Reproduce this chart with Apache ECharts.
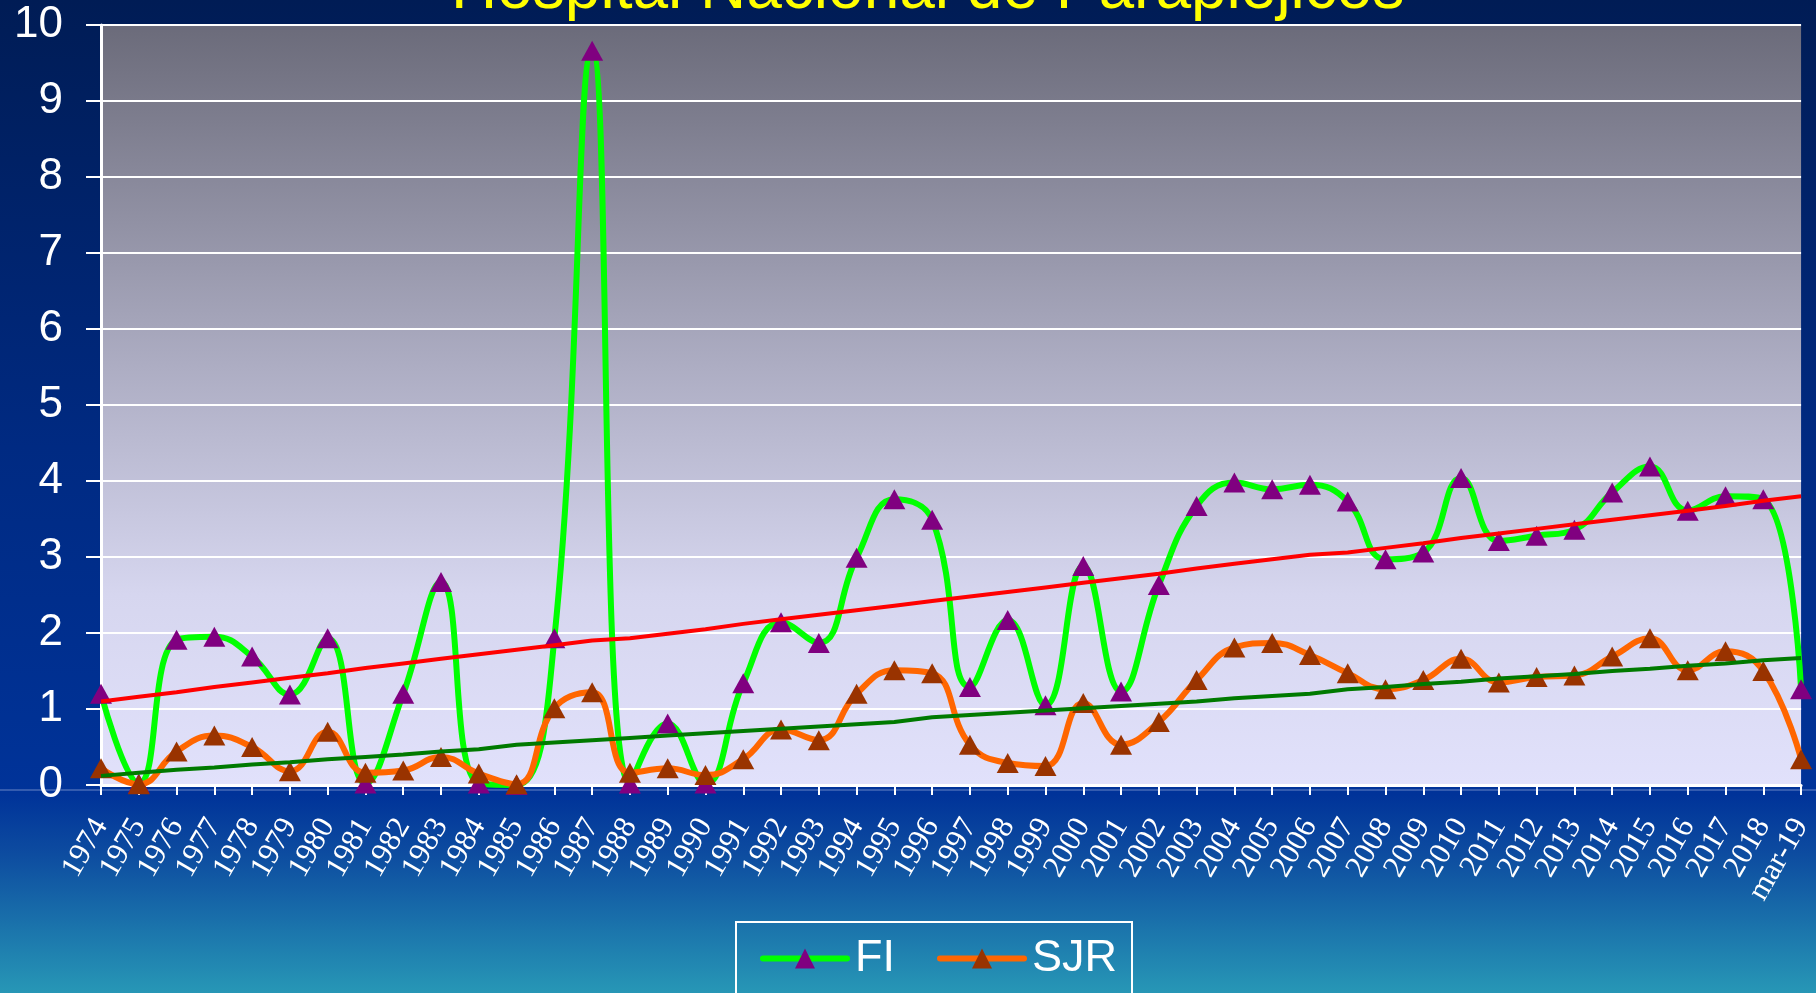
<!DOCTYPE html>
<html>
<head>
<meta charset="utf-8">
<script src="https://cdn.jsdelivr.net/npm/echarts@6/dist/echarts.min.js"></script>
<style>
html,body{margin:0;padding:0;width:1816px;height:993px;overflow:hidden;background:#002a80;}
#chart{width:1816px;height:993px;}
</style>
</head>
<body>
<div id="chart"></div>
<script>
const titleText = 'Hospital Nacional de Parapléjicos';
const categories = ['1974','1975','1976','1977','1978','1979','1980','1981','1982','1983','1984','1985','1986','1987','1988','1989','1990','1991','1992','1993','1994','1995','1996','1997','1998','1999','2000','2001','2002','2003','2004','2005','2006','2007','2008','2009','2010','2011','2012','2013','2014','2015','2016','2017','2018','mar-19'];
const fiValues = [1.20,0.02,1.91,1.95,1.69,1.19,1.93,0.02,1.20,2.67,0.02,0.00,1.93,9.66,0.02,0.81,0.02,1.34,2.14,1.87,2.99,3.76,3.49,1.29,2.17,1.05,2.88,1.23,2.63,3.67,3.98,3.89,3.95,3.73,2.97,3.06,4.04,3.21,3.28,3.36,3.85,4.19,3.61,3.80,3.76,1.26];
const sjrValues = [0.22,0.01,0.44,0.65,0.50,0.18,0.70,0.16,0.19,0.37,0.15,0.01,1.01,1.22,0.16,0.22,0.13,0.34,0.73,0.59,1.20,1.51,1.47,0.53,0.29,0.25,1.08,0.53,0.83,1.38,1.81,1.87,1.71,1.47,1.26,1.38,1.66,1.35,1.42,1.44,1.69,1.93,1.51,1.76,1.50,0.34];
const fiTrend = [1.10,1.16,1.22,1.29,1.35,1.41,1.47,1.54,1.60,1.66,1.72,1.78,1.84,1.90,1.93,1.99,2.05,2.12,2.18,2.24,2.30,2.36,2.42,2.48,2.54,2.60,2.66,2.72,2.78,2.85,2.91,2.97,3.03,3.06,3.12,3.18,3.25,3.31,3.37,3.43,3.49,3.55,3.61,3.67,3.74,3.80];
const sjrTrend = [0.12,0.16,0.20,0.23,0.27,0.30,0.34,0.37,0.40,0.44,0.47,0.53,0.56,0.59,0.62,0.65,0.68,0.71,0.74,0.77,0.80,0.83,0.89,0.92,0.95,0.98,1.01,1.04,1.07,1.10,1.14,1.17,1.20,1.26,1.29,1.33,1.36,1.40,1.43,1.46,1.50,1.53,1.57,1.60,1.64,1.67];
const yTicks = [0,1,2,3,4,5,6,7,8,9,10];

const chart = echarts.init(document.getElementById('chart'), null, {renderer:'canvas'});
const option = {
  animation: false,
  backgroundColor: {
    type:'linear', x:0, y:0, x2:0, y2:1,
    colorStops:[
      {offset:0, color:'#001c55'},
      {offset:0.45, color:'#002a82'},
      {offset:0.80, color:'#003399'},
      {offset:0.86, color:'#0d4ca0'},
      {offset:1, color:'#2797b6'}
    ]
  },
  title: {
    text: titleText,
    left: 451, top: -42, padding: 0,
    textStyle: {color:'#ffff00', fontSize:64, fontWeight:'normal', fontFamily:'Liberation Sans'}
  },
  legend: {
    data: ['FI','SJR'],
    left: 736, top: 922,
    orient: 'horizontal',
    borderColor: '#ffffff', borderWidth: 2,
    padding: [14,15,14,24],
    itemWidth: 84, itemHeight: 25, itemGap: 42,
    lineStyle: {width: 6, cap: 'round'},
    textStyle: {color:'#ffffff', fontSize:45, fontFamily:'Liberation Sans', padding:[0,0,0,3]}
  },
  grid: {
    left: 101, right: 4, top: 25, bottom: 208,
    show: true, borderWidth: 0,
    backgroundColor: {
      type:'linear', x:0, y:0, x2:0, y2:1,
      colorStops:[
        {offset:0, color:'#6b6b7a'},
        {offset:0.45, color:'#adadc3'},
        {offset:0.75, color:'#d6d6ef'},
        {offset:1, color:'#e1e1fb'}
      ]
    }
  },
  xAxis: {
    type: 'category',
    data: categories,
    boundaryGap: false,
    axisLine: {show:true, lineStyle:{color:'#ffffff', width:3}},
    axisTick: {show:true, inside:false, length:10, lineStyle:{color:'#ffffff', width:2}, interval:0},
    axisLabel: {interval:0, rotate:60, margin:36, color:'#ffffff', fontSize:31, fontFamily:'Liberation Serif'},
    splitLine: {show:false}
  },
  yAxis: {
    type: 'value',
    min: yTicks[0], max: yTicks[yTicks.length-1], interval: 1,
    axisLine: {show:true, lineStyle:{color:'#ffffff', width:3}},
    axisTick: {show:true, inside:false, length:15, lineStyle:{color:'#ffffff', width:2}},
    axisLabel: {margin:38, color:'#ffffff', fontSize:44, fontFamily:'Liberation Sans'},
    splitLine: {show:true, lineStyle:{color:'#ffffff', width:2}}
  },
  graphic: [
    {type:'line', silent:true, z:-1, shape:{x1:0, y1:790, x2:1816, y2:790}, style:{stroke:'rgba(190,200,235,0.55)', lineWidth:1}}
  ],
  series: [
    {
      name:'FI', type:'line', data: fiValues, smooth:0.45,
      symbol:'triangle', symbolSize:[22,20],
      lineStyle:{color:'#00ff00', width:6, cap:'round', join:'round'},
      itemStyle:{color:'#800080', borderWidth:0},
      z: 2
    },
    {
      name:'SJR', type:'line', data: sjrValues, smooth:0.45,
      symbol:'triangle', symbolSize:[22,20],
      lineStyle:{color:'#ff6600', width:6, cap:'round', join:'round'},
      itemStyle:{color:'#993300', borderWidth:0},
      z: 3
    },
    {
      name:'FI trend', type:'line', data: fiTrend, smooth:false,
      symbol:'none', lineStyle:{color:'#ff0000', width:4}, z: 4
    },
    {
      name:'SJR trend', type:'line', data: sjrTrend, smooth:false,
      symbol:'none', lineStyle:{color:'#007a00', width:4}, z: 4
    }
  ]
};
chart.setOption(option);
</script>
</body>
</html>
